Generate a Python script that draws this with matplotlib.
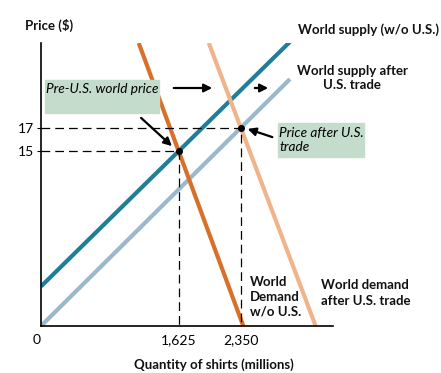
import matplotlib.pyplot as plt

# market values
q_pre = 1625
q_after = 2350
p_pre = 15
p_after = 17

# curve end points (quantity, price)
supply_wo_q = [0, 2930]
supply_wo_p = [3.4, 24.4]
supply_after_q = [0, 2930]
supply_after_p = [0, 21.2]
demand_wo_q = [1150, 2381]
demand_wo_p = [24.3, 0]
demand_after_q = [1975, 3233]
demand_after_p = [24.3, 0]

x_ticks = [0, q_pre, q_after]
x_labels = ['0', '1,625', '2,350']
y_ticks = [p_pre, p_after]
y_labels = ['15', '17']

plt.rcParams['font.family'] = ['Lato', 'DejaVu Sans']

W, H = 441, 373
fig = plt.figure(figsize=(W / 100, H / 100), dpi=100)
ax = fig.add_axes([41 / W, (H - 326) / H, (333 - 41) / W, (326 - 43) / H])
ax.set_xlim(0, 3437)
ax.set_ylim(0, 24.3)
for s in ['top', 'right']:
    ax.spines[s].set_visible(False)
ax.spines['left'].set_linewidth(1.2)
ax.spines['bottom'].set_linewidth(1.2)

teal = '#1f7e99'
lblue = '#9bb9cd'
orange = '#d8702b'
lorange = '#f0b48c'
box = '#c3dccb'

lw = 3
ax.plot(supply_wo_q, supply_wo_p, color=teal, lw=lw, solid_capstyle='butt')
ax.plot(supply_after_q, supply_after_p, color=lblue, lw=lw, solid_capstyle='butt')
ax.plot(demand_wo_q, demand_wo_p, color=orange, lw=lw, solid_capstyle='butt')
ax.plot(demand_after_q, demand_after_p, color=lorange, lw=lw, solid_capstyle='butt')

# dashed guides
dash = dict(color='black', lw=0.9, ls=(0, (7, 4)))
ax.plot([0, q_pre, q_pre], [p_pre, p_pre, 0], **dash)
ax.plot([0, q_after, q_after], [p_after, p_after, 0], **dash)
ax.plot([q_pre, q_after], [p_pre, p_after], 'o', color='black', ms=4, zorder=5)

ax.set_xticks(x_ticks)
ax.set_xticklabels(x_labels, fontsize=10)
ax.get_xticklabels()[0].set_horizontalalignment('right')
ax.set_yticks(y_ticks)
ax.set_yticklabels(y_labels, fontsize=10)
ax.tick_params(axis='x', length=0, pad=6)
ax.tick_params(axis='y', length=3, pad=2)

bold = dict(fontsize=9.5, fontweight='bold', color='#111111')
fig.text(25 / W, 1 - 25 / H, 'Price ($)', ha='left', va='center', **bold)
fig.text(214 / W, 1 - 365 / H, 'Quantity of shirts (millions)', ha='center', va='center', **bold)
fig.text(298 / W, 1 - 30 / H, 'World supply (w/o U.S.)', ha='left', va='center', **bold)
fig.text(352 / W, 1 - 78 / H, 'World supply after\nU.S. trade', ha='center', va='center',
         linespacing=1.2, **bold)
fig.text(250 / W, 1 - 297 / H, 'World\nDemand\nw/o U.S.', ha='left', va='center',
         linespacing=1.25, **bold)
fig.text(321 / W, 1 - 293 / H, 'World demand\nafter U.S. trade', ha='left', va='center',
         linespacing=1.35, **bold)

# call-out boxes
fig.patches.append(plt.Rectangle((45 / W, 1 - 113 / H), 114 / W, 33 / H,
                                 transform=fig.transFigure, color=box, zorder=3))
fig.text(46 / W, 1 - 89 / H, 'Pre-U.S. world price', ha='left', va='center',
         fontsize=9.8, style='italic', zorder=4)
fig.patches.append(plt.Rectangle((278 / W, 1 - 157 / H), 86 / W, 34 / H,
                                 transform=fig.transFigure, color=box, zorder=3))
fig.text(279 / W, 1 - 140 / H, 'Price after U.S.\ntrade', ha='left', va='center',
         fontsize=9.8, style='italic', linespacing=1.15, zorder=4)

arrow = dict(arrowstyle='-|>', color='black', lw=1.6, mutation_scale=12)
fig_px = lambda x, y: (x / W, 1 - y / H)
ax.annotate('', xy=fig_px(174, 148), xytext=fig_px(139, 116),
            xycoords='figure fraction', textcoords='figure fraction', arrowprops=arrow)
ax.annotate('', xy=fig_px(215, 88), xytext=fig_px(171, 88),
            xycoords='figure fraction', textcoords='figure fraction', arrowprops=arrow)
ax.annotate('', xy=fig_px(271, 88), xytext=fig_px(252, 88),
            xycoords='figure fraction', textcoords='figure fraction', arrowprops=arrow)
ax.annotate('', xy=fig_px(245, 128), xytext=fig_px(275, 138),
            xycoords='figure fraction', textcoords='figure fraction', arrowprops=arrow)

fig.savefig('out.png', dpi=100)
